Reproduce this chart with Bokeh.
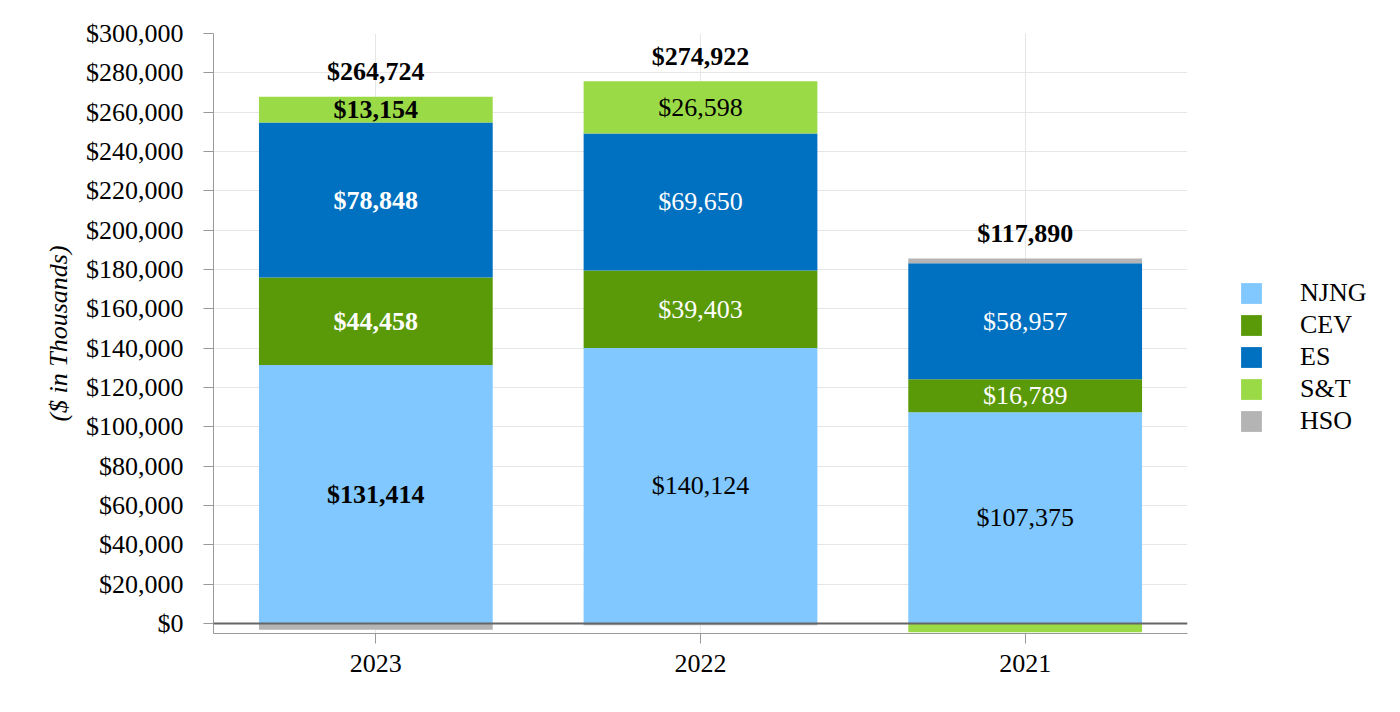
import numpy as np
from bokeh.plotting import figure
from bokeh.models import (ColumnDataSource, FactorRange, Range1d, SingleIntervalTicker,
                          NumeralTickFormatter, Legend, LegendItem, Span)
from bokeh.core.properties import value
from bokeh.embed import file_html
from bokeh.resources import INLINE

years = ["2023", "2022", "2021"]
series = ["NJNG", "CEV", "ES", "S&T", "HSO"]
njng = [131414, 140124, 107375]
cev = [44458, 39403, 16789]
es = [78848, 69650, 58957]
st = [13154, 26598, -4500]
hso = [-3150, -853, 2500]
totals = [264724, 274922, 117890]
colors = ["#80C8FF", "#5A9A08", "#0070C0", "#9BDA47", "#B4B4B4"]
label_colors = ["black", "white", "white", "black"]
bold_years = ["2023"]

FONT = "Liberation Serif"

p = figure(x_range=FactorRange(*years), y_range=Range1d(-5085, 300000),
           frame_width=974, frame_height=600,
           min_border_left=213, min_border_right=197, min_border_top=33, min_border_bottom=63,
           output_backend="svg", toolbar_location=None, background_fill_color="white",
           border_fill_color="white", outline_line_color=None)

vals = [njng, cev, es, st, hso]
pos_base = np.zeros(3)
neg_base = np.zeros(3)
renderers = []
for name, v, c in zip(series, vals, colors):
    v = np.array(v, dtype=float)
    bottom = np.where(v >= 0, pos_base, neg_base)
    top = bottom + v
    src = ColumnDataSource(dict(x=years, bottom=bottom, top=top))
    r = p.vbar(x="x", bottom="bottom", top="top", width=0.72, source=src,
               fill_color=c, line_color=None)
    renderers.append((name, r))
    if name != "HSO":
        for i, y in enumerate(years):
            if v[i] > 0:
                mid = (bottom[i] + top[i]) / 2
                p.text(x=[y], y=[mid], text=["${:,.0f}".format(v[i])],
                       text_font=value(FONT), text_font_size="26px",
                       text_font_style="bold" if y in bold_years else "normal",
                       text_color=label_colors[series.index(name)],
                       text_align="center", text_baseline="middle")
    pos_base = np.where(v >= 0, top, pos_base)
    neg_base = np.where(v < 0, top, neg_base)

p.text(x=years, y=list(pos_base), text=["${:,.0f}".format(t) for t in totals],
       text_font=value(FONT), text_font_size="26px", text_font_style="bold",
       text_color="black", text_align="center", text_baseline="middle", y_offset=-25)

p.add_layout(Span(location=0, dimension="width", line_color="#666666", line_width=2))

legend = Legend(items=[LegendItem(label=n, renderers=[r]) for n, r in renderers],
                location=(51, 197), orientation="vertical",
                glyph_width=26, glyph_height=26, spacing=2, padding=0, margin=0,
                label_standoff=36, label_text_font=FONT, label_text_font_size="26px",
                label_text_color="black", label_height=26,
                border_line_color=None, background_fill_alpha=0)
p.add_layout(legend, "right")

p.yaxis.ticker = SingleIntervalTicker(interval=20000, num_minor_ticks=0)
p.yaxis.formatter = NumeralTickFormatter(format="$0,0")
p.yaxis.axis_label = "($ in Thousands)"
p.yaxis.axis_label_text_font = FONT
p.yaxis.axis_label_text_font_style = "italic"
p.yaxis.axis_label_text_font_size = "26px"
p.yaxis.axis_label_text_color = "black"
p.yaxis.axis_label_standoff = 10

for ax in (p.xaxis, p.yaxis):
    ax.major_label_text_font = FONT
    ax.major_label_text_font_size = "26px"
    ax.major_label_text_color = "black"
    ax.axis_line_color = "#999999"
    ax.major_tick_line_color = "#999999"
    ax.major_tick_out = 10
    ax.major_tick_in = 0
    ax.minor_tick_line_color = None
p.yaxis.major_label_standoff = 20
p.xaxis.major_label_standoff = 11

p.xgrid.grid_line_color = "#e6e6e6"
p.ygrid.grid_line_color = "#e6e6e6"

open("out.html", "w").write(file_html(p, INLINE))
